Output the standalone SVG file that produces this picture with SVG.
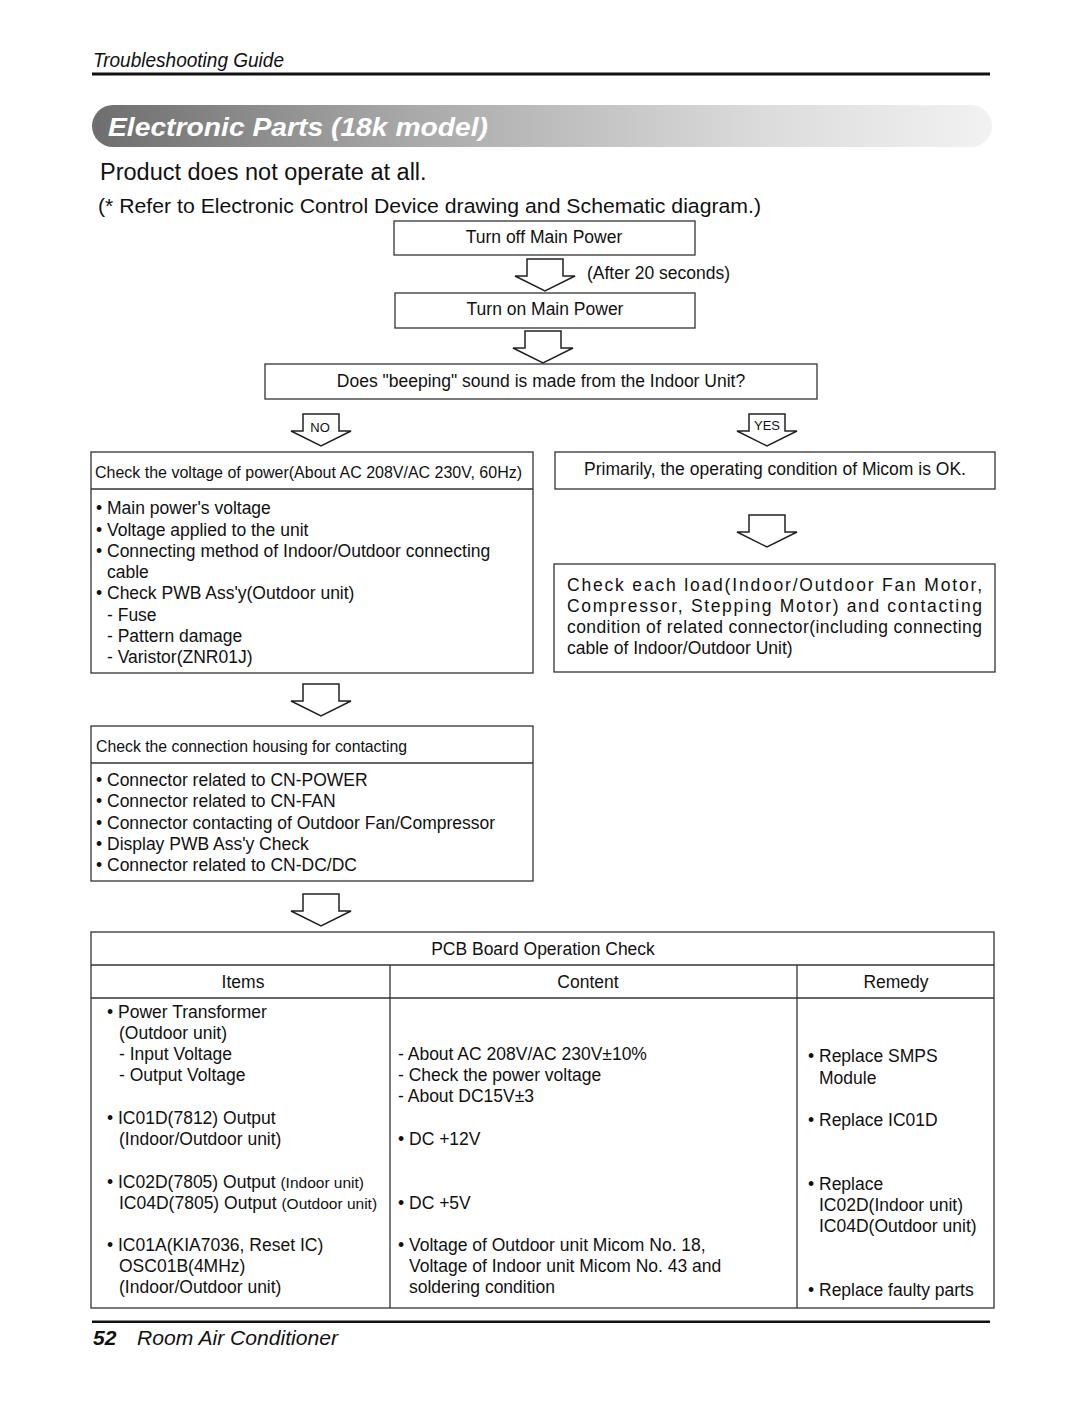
<svg xmlns="http://www.w3.org/2000/svg" width="1080" height="1405" viewBox="0 0 1080 1405">
<defs>
<linearGradient id="bannerGrad" x1="0" y1="0" x2="1" y2="0">
<stop offset="0" stop-color="#6e6e6e"/>
<stop offset="0.35" stop-color="#a8a8a8"/>
<stop offset="0.75" stop-color="#dcdcdc"/>
<stop offset="1" stop-color="#f2f2f2"/>
</linearGradient>
<path id="arrow" d="M-18,0 H18 V17 H30 L0,32 L-30,17 H-18 Z"/>
</defs>
<style>
text{font-family:"Liberation Sans",Arial,sans-serif;fill:#111;}
.t{font-size:17.5px;}
.c{text-anchor:middle;}
.box{fill:#fff;stroke:#333;stroke-width:1.3;}
.ln{stroke:#333;stroke-width:1.3;fill:none;}
.arr{fill:#fff;stroke:#222;stroke-width:1.5;stroke-linejoin:miter;}
.lbl{font-size:13px;}
</style>
<rect width="1080" height="1405" fill="#fff"/>

<!-- page header -->
<g id="page-header">
<text x="93" y="67" font-size="20" font-style="italic" textLength="191" lengthAdjust="spacingAndGlyphs">Troubleshooting Guide</text>
<rect x="92" y="72.5" width="898" height="3" fill="#111"/>
<rect x="92" y="105" width="900" height="42" rx="21" ry="21" fill="url(#bannerGrad)"/>
<text x="108" y="136" font-size="26" font-weight="bold" font-style="italic" style="fill:#fff" textLength="380" lengthAdjust="spacingAndGlyphs">Electronic Parts (18k model)</text>
<text x="100" y="180" font-size="23.5">Product does not operate at all.</text>
<text x="98" y="213" font-size="20.5" textLength="663" lengthAdjust="spacingAndGlyphs">(* Refer to Electronic Control Device drawing and Schematic diagram.)</text>
</g>

<!-- connectors -->
<g id="connectors">
<use href="#arrow" class="arr" transform="translate(545,259)"/>
<text x="587" y="279" class="t">(After 20 seconds)</text>
<use href="#arrow" class="arr" transform="translate(543,331)"/>
<use href="#arrow" class="arr" transform="translate(321,414)"/>
<text x="320" y="432" class="lbl c">NO</text>
<use href="#arrow" class="arr" transform="translate(767,414)"/>
<text x="767" y="430" class="lbl c">YES</text>
<use href="#arrow" class="arr" transform="translate(767,515)"/>
<use href="#arrow" class="arr" transform="translate(321,684)"/>
<use href="#arrow" class="arr" transform="translate(321,894)"/>
</g>

<g id="n-turn-off">
<rect x="394" y="221" width="301" height="34" class="box"/>
<text x="544" y="243" class="t c">Turn off Main Power</text>
</g>

<g id="n-turn-on">
<rect x="395" y="293" width="300" height="35" class="box"/>
<text x="545" y="315" class="t c">Turn on Main Power</text>
</g>

<g id="n-beeping">
<rect x="265" y="364" width="552" height="35" class="box"/>
<text x="541" y="387" class="t c">Does "beeping" sound is made from the Indoor Unit?</text>
</g>

<g id="n-check-voltage">
<rect x="91" y="452" width="442" height="221" class="box"/>
<line x1="91" y1="489" x2="533" y2="489" class="ln"/>
<text x="95" y="478" font-size="17" textLength="427" lengthAdjust="spacingAndGlyphs">Check the voltage of power(About AC 208V/AC 230V, 60Hz)</text>
<text x="96" y="514" class="t">• Main power's voltage</text>
<text x="96" y="536" class="t">• Voltage applied to the unit</text>
<text x="96" y="557" class="t">• Connecting method of Indoor/Outdoor connecting</text>
<text x="107" y="578" class="t">cable</text>
<text x="96" y="599" class="t">• Check PWB Ass'y(Outdoor unit)</text>
<text x="107" y="621" class="t">- Fuse</text>
<text x="107" y="642" class="t">- Pattern damage</text>
<text x="107" y="663" class="t">- Varistor(ZNR01J)</text>
</g>

<g id="n-micom-ok">
<rect x="555" y="452" width="440" height="37" class="box"/>
<text x="775" y="475" class="t c">Primarily, the operating condition of Micom is OK.</text>
</g>

<g id="n-check-load">
<rect x="554" y="564" width="441" height="108" class="box"/>
<text x="567" y="591" class="t" textLength="415" lengthAdjust="spacing">Check each load(Indoor/Outdoor Fan Motor,</text>
<text x="567" y="612" class="t" textLength="415" lengthAdjust="spacing">Compressor, Stepping Motor) and contacting</text>
<text x="567" y="633" class="t" textLength="415" lengthAdjust="spacing">condition of related connector(including connecting</text>
<text x="567" y="654" class="t">cable of Indoor/Outdoor Unit)</text>
</g>

<g id="n-check-connection">
<rect x="91" y="726" width="442" height="155" class="box"/>
<line x1="91" y1="763" x2="533" y2="763" class="ln"/>
<text x="96" y="752" font-size="17" textLength="311" lengthAdjust="spacingAndGlyphs">Check the connection housing for contacting</text>
<text x="96" y="786" class="t">• Connector related to CN-POWER</text>
<text x="96" y="807" class="t">• Connector related to CN-FAN</text>
<text x="96" y="829" class="t">• Connector contacting of Outdoor Fan/Compressor</text>
<text x="96" y="850" class="t">• Display PWB Ass'y Check</text>
<text x="96" y="871" class="t">• Connector related to CN-DC/DC</text>
</g>

<g id="n-pcb-table">
<rect x="91" y="932" width="903" height="376" class="box"/>
<line x1="91" y1="965" x2="994" y2="965" class="ln"/>
<line x1="91" y1="998" x2="994" y2="998" class="ln"/>
<line x1="390" y1="965" x2="390" y2="1308" class="ln"/>
<line x1="797" y1="965" x2="797" y2="1308" class="ln"/>
<text x="543" y="955" class="t c">PCB Board Operation Check</text>
<text x="243" y="988" class="t c">Items</text>
<text x="588" y="988" class="t c">Content</text>
<text x="896" y="988" class="t c">Remedy</text>

<text x="107" y="1018" class="t">• Power Transformer</text>
<text x="119" y="1039" class="t">(Outdoor unit)</text>
<text x="119" y="1060" class="t">- Input Voltage</text>
<text x="119" y="1081" class="t">- Output Voltage</text>
<text x="107" y="1124" class="t">• IC01D(7812) Output</text>
<text x="119" y="1145" class="t">(Indoor/Outdoor unit)</text>
<text x="107" y="1188" class="t">• IC02D(7805) Output <tspan font-size="15.5">(Indoor unit)</tspan></text>
<text x="119" y="1209" class="t">IC04D(7805) Output <tspan font-size="15.5">(Outdoor unit)</tspan></text>
<text x="107" y="1251" class="t">• IC01A(KIA7036, Reset IC)</text>
<text x="119" y="1272" class="t">OSC01B(4MHz)</text>
<text x="119" y="1293" class="t">(Indoor/Outdoor unit)</text>

<text x="398" y="1060" class="t">- About AC 208V/AC 230V±10%</text>
<text x="398" y="1081" class="t">- Check the power voltage</text>
<text x="398" y="1102" class="t">- About DC15V±3</text>
<text x="398" y="1145" class="t">• DC +12V</text>
<text x="398" y="1209" class="t">• DC +5V</text>
<text x="398" y="1251" class="t">• Voltage of Outdoor unit Micom No. 18,</text>
<text x="409" y="1272" class="t">Voltage of Indoor unit Micom No. 43 and</text>
<text x="409" y="1293" class="t">soldering condition</text>

<text x="808" y="1062" class="t">• Replace SMPS</text>
<text x="819" y="1084" class="t">Module</text>
<text x="808" y="1126" class="t">• Replace IC01D</text>
<text x="808" y="1190" class="t">• Replace</text>
<text x="819" y="1211" class="t">IC02D(Indoor unit)</text>
<text x="819" y="1232" class="t">IC04D(Outdoor unit)</text>
<text x="808" y="1296" class="t">• Replace faulty parts</text>
</g>

<g id="page-footer">
<rect x="92" y="1320.5" width="898" height="2.5" fill="#111"/>
<text x="93" y="1345" font-size="21" font-weight="bold" font-style="italic">52</text>
<text x="137" y="1345" font-size="21" font-style="italic" textLength="201" lengthAdjust="spacingAndGlyphs">Room Air Conditioner</text>
</g>
</svg>
